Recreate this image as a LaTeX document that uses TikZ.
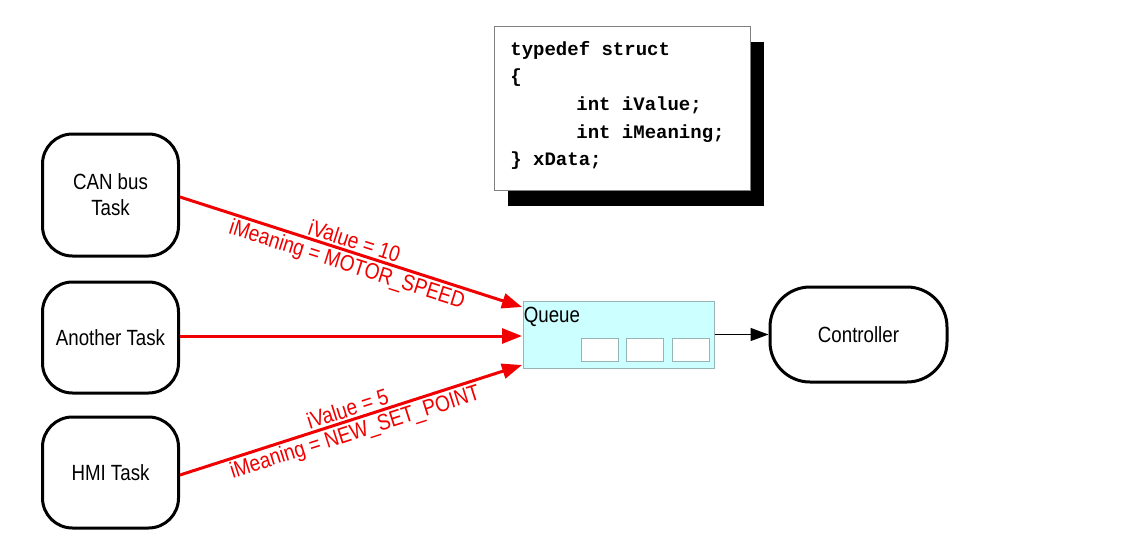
\documentclass[tikz,border=0pt]{standalone}
\usepackage{fontspec}
\setmainfont{Liberation Sans}
\newfontfamily\labelfont[FakeStretch=0.85]{Liberation Sans}
\newfontfamily\codefont{Liberation Mono}
\usetikzlibrary{arrows.meta}

\definecolor{queuefill}{RGB}{204,255,255}
\definecolor{queueline}{RGB}{150,180,180}
\definecolor{msgred}{RGB}{240,0,0}

\tikzset{every picture/.style={line width=0.75pt}}
\tikzset{
  task/.style={draw, line width=3pt, rounded corners=30pt, minimum width=136pt, align=center, inner sep=0pt, font=\labelfont\fontsize{22}{26}\selectfont},
  slot/.style={draw=queueline, fill=white, line width=1pt, minimum width=37pt, minimum height=23pt, inner sep=0pt},
  msg/.style={draw=msgred, line width=3pt, -{Triangle[length=20pt,width=15pt]}},
  msglabel/.style={text=msgred, inner sep=2pt, font=\labelfont\fontsize{22.5}{24}\selectfont},
  codeline/.style={anchor=base west, inner sep=0pt, font=\codefont\bfseries\fontsize{19}{22}\selectfont}
}

\begin{document}
\begin{tikzpicture}[x=1pt,y=1pt,yscale=-1,xscale=1]
\useasboundingbox (0,0) rectangle (1125,557);

%Shape: Shadow of struct box
\fill [black] (508,42) rectangle (764,206) ;
%Shape: Struct box
\draw [draw={rgb, 255:red, 128; green, 128; blue, 128 }, fill=white, line width=1pt] (494,26) rectangle (750,190) ;

% Text Node
\node [codeline] (code1) at (510,55) {typedef struct};
% Text Node
\node [codeline] (code2) at (510,82.7) {\{};
% Text Node
\node [codeline] (code3) at (510,110.4) {\hspace*{66pt}int iValue;};
% Text Node
\node [codeline] (code4) at (510,138.1) {\hspace*{66pt}int iMeaning;};
% Text Node
\node [codeline] (code5) at (510,165.8) {\} xData;};

%Tasks
\node [task, minimum height=122pt] (can) at (110.5,195) {CAN bus\\Task};
\node [task, minimum height=111pt] (another) at (110.5,337.5) {Another Task};
\node [task, minimum height=111pt] (hmi) at (110.5,472.5) {HMI Task};

%Shape: Queue
\node [draw=queueline, fill=queuefill, line width=1pt, minimum width=191pt, minimum height=67pt, inner sep=0pt] (queue) at (618.5,334.5) {};
\node [anchor=base west, inner sep=0pt, font=\labelfont\fontsize{22}{24}\selectfont] (qlabel) at (523.5,322) {Queue};
\node [slot] (slot1) at (599.5,349.5) {};
\node [slot] (slot2) at (645,349.5) {};
\node [slot] (slot3) at (691,349.5) {};

%Controller
\node [task, rounded corners=40pt, minimum width=177pt, minimum height=95pt] (ctrl) at (858.5,334.5) {Controller};

%Queue inputs
\coordinate (qin1) at (522,307);
\coordinate (qin2) at (522,336);
\coordinate (qin3) at (522,365);

%Messages
\draw [msg] (can.east |- 0,197) -- (qin1)
  node [msglabel, rotate=-17.73, anchor=south, pos=0.5] (lbl1) {iValue = 10}
  node [msglabel, rotate=-17.73, anchor=north, pos=0.5] (lbl2) {iMeaning = MOTOR\_SPEED};
\draw [msg] (another.east |- 0,336) -- (qin2) ;
\draw [msg] (hmi.east |- 0,475) -- (qin3)
  node [msglabel, rotate=17.73, anchor=south, pos=0.5] (lbl3) {iValue = 5}
  node [msglabel, rotate=17.73, anchor=north, pos=0.5] (lbl4) {iMeaning = NEW\_SET\_POINT};

%Queue to controller
\draw [line width=1.5pt, -{Triangle[length=18pt,width=13pt]}] (queue.east) -- (ctrl.west) ;

\end{tikzpicture}
\end{document}
